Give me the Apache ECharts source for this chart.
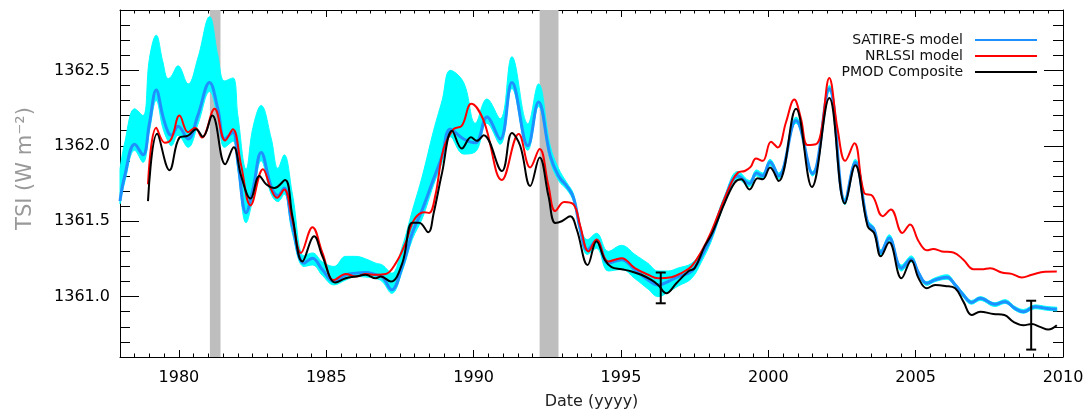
<!DOCTYPE html>
<html><head><meta charset="utf-8">
<script src="https://cdn.jsdelivr.net/npm/echarts@6/dist/echarts.min.js"></script>
<style>html,body{margin:0;padding:0;background:#fff}#c{width:1091px;height:416px}</style>
</head><body><div id="c"></div>
<script>
// ---- data ----
const satYears = [1978.0,1978.16,1978.5,1978.78,1979.0,1979.23,1979.45,1979.63,1979.74,1979.97,1980.31,1980.64,1981.04,1981.32,1981.55,1981.83,1982.0,1982.28,1982.51,1982.79,1983.13,1983.36,1983.57,1983.85,1984.25,1984.53,1984.87,1985.26,1985.66,1986.0,1986.34,1986.68,1986.9,1987.22,1987.58,1987.92,1988.26,1988.64,1988.93,1989.21,1989.66,1990.06,1990.45,1990.9,1991.3,1991.84,1992.2,1992.6,1992.88,1993.16,1993.39,1993.62,1993.86,1994.17,1994.57,1995.02,1995.47,1995.92,1996.26,1996.6,1996.94,1997.39,1997.73,1998.07,1998.52,1998.97,1999.36,1999.6,1999.8,2000.06,2000.35,2000.94,2001.5,2002.07,2002.6,2002.95,2003.37,2003.59,2003.82,2004.1,2004.52,2004.85,2005.1,2005.38,2005.66,2006.06,2006.34,2006.62,2006.9,2007.19,2007.69,2008.03,2008.37,2008.66,2009.05,2009.45,2009.79];
const satValues = [1361.633,1361.80,1362.01,1361.94,1362.15,1362.37,1362.20,1362.09,1362.07,1362.13,1362.045,1362.20,1362.42,1362.245,1362.045,1362.09,1361.89,1361.556,1361.71,1361.956,1361.73,1361.67,1361.72,1361.467,1361.222,1361.255,1361.178,1361.10,1361.145,1361.156,1361.16,1361.145,1361.133,1361.045,1361.20,1361.422,1361.578,1361.78,1361.933,1362.11,1362.045,1362.02,1362.19,1362.045,1362.42,1362.0,1362.29,1361.933,1361.80,1361.733,1361.656,1361.445,1361.31,1361.37,1361.222,1361.245,1361.178,1361.111,1361.078,1361.10,1361.133,1361.167,1361.267,1361.40,1361.645,1361.80,1361.75,1361.82,1361.80,1361.893,1361.80,1362.167,1361.816,1362.378,1361.633,1361.889,1361.489,1361.445,1361.293,1361.389,1361.189,1361.249,1361.156,1361.089,1361.111,1361.129,1361.078,1361.011,1360.962,1360.989,1360.949,1360.967,1360.922,1360.90,1360.933,1360.922,1360.916];
const bandLow = [1361.615,1361.76,1361.97,1361.89,1362.10,1362.30,1362.12,1362.03,1362.00,1362.07,1361.99,1362.14,1362.36,1362.18,1361.99,1362.03,1361.84,1361.49,1361.65,1361.90,1361.68,1361.63,1361.68,1361.42,1361.20,1361.21,1361.14,1361.078,1361.11,1361.133,1361.13,1361.12,1361.10,1361.022,1361.17,1361.38,1361.52,1361.74,1361.89,1362.06,1361.945,1361.96,1362.15,1362.01,1362.38,1361.97,1362.26,1361.90,1361.77,1361.71,1361.63,1361.42,1361.28,1361.32,1361.17,1361.18,1361.12,1361.05,1361.00,1361.03,1361.07,1361.12,1361.23,1361.37,1361.62,1361.78,1361.73,1361.80,1361.78,1361.87,1361.78,1362.15,1361.80,1362.36,1361.61,1361.87,1361.47,1361.43,1361.27,1361.37,1361.17,1361.23,1361.14,1361.075,1361.10,1361.115,1361.065,1360.995,1360.95,1360.975,1360.935,1360.955,1360.91,1360.89,1360.92,1360.91,1360.905];
const bandHigh = [1361.845,1362.02,1362.245,1362.20,1362.58,1362.733,1362.56,1362.445,1362.46,1362.53,1362.41,1362.58,1362.856,1362.60,1362.43,1362.45,1362.20,1361.845,1362.12,1362.267,1362.05,1361.85,1361.94,1361.68,1361.27,1361.29,1361.23,1361.20,1361.267,1361.267,1361.25,1361.222,1361.21,1361.156,1361.333,1361.57,1361.80,1362.10,1362.30,1362.50,1362.42,1362.15,1362.31,1362.178,1362.59,1362.145,1362.41,1362.0,1361.85,1361.756,1361.68,1361.467,1361.378,1361.42,1361.30,1361.34,1361.28,1361.22,1361.17,1361.17,1361.19,1361.22,1361.30,1361.43,1361.67,1361.83,1361.77,1361.84,1361.82,1361.91,1361.82,1362.19,1361.83,1362.40,1361.65,1361.91,1361.51,1361.46,1361.31,1361.41,1361.21,1361.27,1361.17,1361.10,1361.125,1361.145,1361.09,1361.025,1360.975,1361.0,1360.96,1360.98,1360.935,1360.915,1360.945,1360.935,1360.93];
const nrlYears = [1978.95,1979.23,1979.52,1979.74,1980.02,1980.31,1980.55,1980.78,1981.21,1981.57,1981.83,1982.11,1982.43,1982.85,1983.13,1983.33,1983.57,1983.85,1984.14,1984.53,1984.87,1985.26,1985.66,1986.0,1986.34,1986.68,1987.02,1987.36,1987.69,1987.98,1988.32,1988.49,1988.7,1988.98,1989.32,1989.6,1989.92,1990.34,1990.96,1991.53,1991.92,1992.24,1992.54,1992.77,1993.07,1993.39,1993.62,1993.9,1994.17,1994.57,1995.02,1995.47,1995.92,1996.26,1996.71,1997.05,1997.39,1997.73,1998.07,1998.41,1998.75,1998.97,1999.2,1999.4,1999.58,1999.81,2000.09,2000.32,2000.6,2000.88,2001.11,2001.33,2001.62,2001.79,2002.07,2002.35,2002.61,2002.92,2003.25,2003.54,2003.88,2004.16,2004.55,2004.81,2005.1,2005.38,2005.6,2005.89,2006.28,2006.62,2006.96,2007.24,2007.53,2007.92,2008.26,2008.6,2008.94,2009.39,2009.79];
const nrlValues = [1361.745,1362.12,1362.02,1362.045,1362.20,1362.09,1362.12,1362.055,1362.245,1362.035,1362.11,1361.87,1361.605,1361.845,1361.71,1361.655,1361.71,1361.51,1361.29,1361.46,1361.29,1361.11,1361.15,1361.133,1361.15,1361.145,1361.15,1361.222,1361.356,1361.51,1361.56,1361.555,1361.67,1361.978,1362.11,1362.133,1362.278,1362.167,1361.773,1362.078,1361.856,1361.978,1361.733,1361.567,1361.627,1361.611,1361.467,1361.30,1361.378,1361.233,1361.255,1361.189,1361.145,1361.122,1361.129,1361.156,1361.20,1361.30,1361.433,1361.60,1361.756,1361.822,1361.833,1361.86,1361.916,1361.90,1362.027,1361.989,1362.156,1362.307,1362.178,1362.005,1362.011,1362.09,1362.45,1362.111,1361.90,1362.016,1361.689,1361.667,1361.533,1361.578,1361.422,1361.478,1361.367,1361.307,1361.316,1361.30,1361.293,1361.245,1361.182,1361.182,1361.189,1361.16,1361.151,1361.127,1361.145,1361.165,1361.167];
const pmodYears = [1978.95,1979.26,1979.68,1980.02,1980.31,1980.58,1980.81,1981.13,1981.57,1981.86,1982.11,1982.43,1982.73,1982.96,1983.24,1983.6,1983.85,1984.19,1984.59,1984.87,1985.32,1985.66,1986.0,1986.34,1986.68,1986.85,1987.19,1987.58,1987.92,1988.15,1988.46,1988.64,1988.93,1989.27,1989.6,1989.91,1990.11,1990.34,1990.96,1991.3,1991.58,1991.92,1992.24,1992.54,1992.77,1992.99,1993.28,1993.5,1993.87,1994.17,1994.45,1994.68,1995.02,1995.36,1995.69,1996.03,1996.26,1996.54,1996.88,1997.28,1997.5,1997.84,1998.07,1998.29,1998.52,1998.86,1999.08,1999.36,1999.64,1999.81,2000.06,2000.35,2000.94,2001.48,2002.07,2002.6,2002.95,2003.37,2003.59,2003.82,2004.1,2004.52,2004.85,2005.1,2005.38,2005.66,2006.0,2006.34,2006.62,2006.9,2007.19,2007.64,2008.01,2008.32,2008.66,2008.94,2009.22,2009.5,2009.79];
const pmodValues = [1361.633,1362.08,1361.838,1362.055,1362.067,1362.11,1362.06,1362.20,1361.878,1361.99,1361.80,1361.65,1361.80,1361.745,1361.72,1361.773,1361.533,1361.233,1361.40,1361.267,1361.093,1361.122,1361.133,1361.145,1361.122,1361.133,1361.10,1361.222,1361.49,1361.49,1361.427,1361.55,1361.822,1362.10,1361.982,1362.056,1362.033,1362.07,1361.833,1362.085,1362.0,1361.733,1361.922,1361.667,1361.489,1361.50,1361.533,1361.445,1361.21,1361.367,1361.245,1361.196,1361.182,1361.167,1361.145,1361.111,1361.078,1361.022,1361.089,1361.167,1361.189,1361.333,1361.411,1361.511,1361.622,1361.756,1361.778,1361.711,1361.785,1361.778,1361.856,1361.767,1362.245,1361.727,1362.316,1361.618,1361.871,1361.467,1361.422,1361.267,1361.36,1361.122,1361.24,1361.122,1361.055,1361.078,1361.071,1361.055,1360.967,1360.878,1360.90,1360.885,1360.878,1360.833,1360.811,1360.818,1360.80,1360.782,1360.811];
const errYears = [1996.35, 2008.92];
const errLow = [1360.956, 1360.649];
const errHigh = [1361.160, 1360.973];
const grayBands = [[1981.05, 1981.41], [1992.24, 1992.88]];
const xMajorTicks = [1980, 1985, 1990, 1995, 2000, 2005, 2010];
const yMajorTicks = [1361.0, 1361.5, 1362.0, 1362.5];
const seriesNames = ['SATIRE-S model', 'NRLSSI model', 'PMOD Composite'];

// ---- chart ----
const FONT = 'DejaVu Sans';
const XMIN = 1978, XMAX = 2010, YMIN = 1360.6, YMAX = 1362.9;
const SMOOTH = 0.4;
const pair = (xs, ys) => xs.map((x, i) => [x, ys[i]]);
const black = '#000';

// Bezier segments built the same way ECharts smooths its line series (no overshoot)
function bezierSegs(pts, smooth) {
  let d = '';
  const n = pts.length;
  let cpx0 = pts[0][0], cpy0 = pts[0][1];
  for (let i = 1; i < n; i++) {
    const x = pts[i][0], y = pts[i][1];
    let cpx1 = x, cpy1 = y, nx = x, ny = y;
    if (i < n - 1) {
      const px = pts[i - 1][0], py = pts[i - 1][1], qx = pts[i + 1][0], qy = pts[i + 1][1];
      let vx = qx - px, vy = qy - py;
      const l0 = Math.hypot(x - px, y - py) || 1e-6, l1 = Math.hypot(qx - x, qy - y) || 1e-6;
      const r = l1 / (l0 + l1);
      nx = x + vx * smooth * r; ny = y + vy * smooth * r;
      nx = Math.min(nx, Math.max(qx, x)); ny = Math.min(ny, Math.max(qy, y));
      nx = Math.max(nx, Math.min(qx, x)); ny = Math.max(ny, Math.min(qy, y));
      vx = nx - x; vy = ny - y;
      cpx1 = x - vx * l0 / l1; cpy1 = y - vy * l0 / l1;
      cpx1 = Math.min(cpx1, Math.max(px, x)); cpy1 = Math.min(cpy1, Math.max(py, y));
      cpx1 = Math.max(cpx1, Math.min(px, x)); cpy1 = Math.max(cpy1, Math.min(py, y));
      vx = x - cpx1; vy = y - cpy1;
      nx = x + vx * l1 / l0; ny = y + vy * l1 / l0;
    }
    d += 'C' + cpx0 + ',' + cpy0 + ',' + cpx1 + ',' + cpy1 + ',' + x + ',' + y;
    cpx0 = nx; cpy0 = ny;
  }
  return d;
}

function xAxisDef(pos, major, withLabel) {
  const a = {
    type: 'value', position: pos, min: XMIN, max: XMAX,
    axisLine: {show: !major, onZero: false, lineStyle: {color: black, width: 1}},
    axisTick: {show: true, inside: true, length: major ? 7 : 3.5, lineStyle: {color: black, width: 1}},
    axisLabel: {show: false},
    splitLine: {show: false}
  };
  if (major) {
    a.axisTick.customValues = xMajorTicks;
    if (withLabel) {
      a.axisLabel = {show: true, customValues: xMajorTicks, fontFamily: FONT, fontSize: 16, color: black, margin: 13,
        formatter: v => String(Math.round(v))};
      a.name = 'Date (yyyy)';
      a.nameLocation = 'middle';
      a.nameGap = 37;
      a.nameTextStyle = {fontFamily: FONT, fontSize: 16, color: '#222'};
    }
  } else {
    a.interval = 0.5;
  }
  return a;
}
function yAxisDef(pos, major, withLabel) {
  const a = {
    type: 'value', position: pos, min: YMIN, max: YMAX,
    axisLine: {show: !major, onZero: false, lineStyle: {color: black, width: 1}},
    axisTick: {show: true, inside: true, length: major ? 19 : 10, lineStyle: {color: black, width: 1}},
    axisLabel: {show: false},
    splitLine: {show: false}
  };
  if (major) {
    a.axisTick.customValues = yMajorTicks;
    if (withLabel) {
      a.axisLabel = {show: true, customValues: yMajorTicks, fontFamily: FONT, fontSize: 16, color: black, margin: 10,
        formatter: v => v.toFixed(1)};
      a.name = 'TSI (W m\u207B\u00B2)';
      a.nameLocation = 'middle';
      a.nameRotate = 90;
      a.nameGap = 84;
      a.nameTextStyle = {fontFamily: FONT, fontSize: 21, color: '#999999', padding: [0, 0, 0, 30]};
    }
  } else {
    a.interval = 0.1;
  }
  return a;
}

const chart = echarts.init(document.getElementById('c'), null, {renderer: 'canvas'});
chart.setOption({
  animation: false,
  backgroundColor: '#fff',
  grid: {left: 120, right: 28, top: 10, bottom: 59, containLabel: false},
  legend: {
    data: seriesNames, orient: 'vertical', right: 54, top: 32, padding: 0, itemGap: 0,
    align: 'right', icon: 'rect', itemWidth: 62, itemHeight: 2,
    textStyle: {fontFamily: FONT, fontSize: 14, color: '#111', lineHeight: 16, padding: [0, 7, 0, 0]},
    selectedMode: false
  },
  xAxis: [xAxisDef('bottom', false), xAxisDef('bottom', true, true), xAxisDef('top', false), xAxisDef('top', true)],
  yAxis: [yAxisDef('left', false), yAxisDef('left', true, true), yAxisDef('right', false), yAxisDef('right', true)],
  series: [
    {
      name: 'band', type: 'custom', silent: true, z: 2,
      data: [[satYears[0], satValues[0]]],
      encode: {x: 0, y: 1},
      renderItem: (params, api) => {
        const up = satYears.map((x, i) => api.coord([x, bandHigh[i]]));
        const lo = satYears.map((x, i) => api.coord([x, bandLow[i]])).reverse();
        const d = 'M' + up[0][0] + ',' + up[0][1] + bezierSegs(up, SMOOTH) +
                  'L' + lo[0][0] + ',' + lo[0][1] + bezierSegs(lo, SMOOTH) + 'Z';
        return {type: 'path', shape: {pathData: d}, style: {fill: '#00ffff', stroke: '#00ffff', lineWidth: 1}};
      },
      markArea: {
        silent: true, z: 1,
        itemStyle: {color: '#bebebe', opacity: 1, borderWidth: 0},
        data: grayBands.map(b => [{xAxis: b[0]}, {xAxis: b[1]}])
      }
    },
    {
      name: seriesNames[0], type: 'line', data: pair(satYears, satValues), smooth: SMOOTH, symbol: 'none', z: 3,
      color: '#1e90ff', lineStyle: {color: '#1e90ff', width: 3}
    },
    {
      name: seriesNames[1], type: 'line', data: pair(nrlYears, nrlValues), smooth: SMOOTH, symbol: 'none', z: 4,
      color: '#ff0000', lineStyle: {color: '#ff0000', width: 2}
    },
    {
      name: seriesNames[2], type: 'line', data: pair(pmodYears, pmodValues), smooth: SMOOTH, symbol: 'none', z: 5,
      color: '#000000', lineStyle: {color: '#000000', width: 2}
    },
    {
      name: 'err', type: 'custom', silent: true, z: 6,
      data: errYears.map((x, i) => [x, errLow[i], errHigh[i]]),
      encode: {x: 0, y: [1, 2]},
      renderItem: (params, api) => {
        const x = api.value(0);
        const a = api.coord([x, api.value(2)]);
        const b = api.coord([x, api.value(1)]);
        const w = 5, st = {stroke: '#000', lineWidth: 2};
        return {type: 'group', children: [
          {type: 'line', shape: {x1: a[0], y1: a[1], x2: b[0], y2: b[1]}, style: st},
          {type: 'line', shape: {x1: a[0] - w, y1: a[1], x2: a[0] + w, y2: a[1]}, style: st},
          {type: 'line', shape: {x1: b[0] - w, y1: b[1], x2: b[0] + w, y2: b[1]}, style: st}
        ]};
      }
    }
  ]
});
</script>
</body></html>
